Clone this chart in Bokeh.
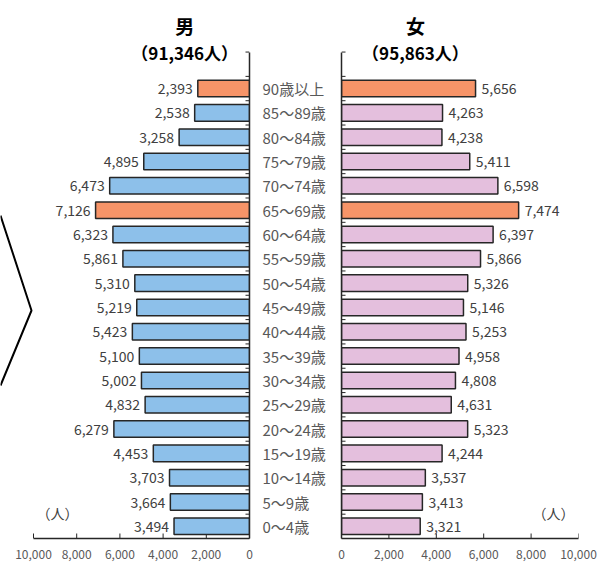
from bokeh.plotting import figure
from bokeh.models import Range1d, FixedTicker, NumeralTickFormatter, ColumnDataSource, Label
from bokeh.layouts import row
from bokeh.embed import file_html
from bokeh.resources import INLINE
from bokeh.core.properties import value

# ---------------- data ----------------
age_groups = ["90歳以上", "85～89歳", "80～84歳", "75～79歳", "70～74歳", "65～69歳",
              "60～64歳", "55～59歳", "50～54歳", "45～49歳", "40～44歳", "35～39歳",
              "30～34歳", "25～29歳", "20～24歳", "15～19歳", "10～14歳", "5～9歳", "0～4歳"]
male = [2393, 2538, 3258, 4895, 6473, 7126, 6323, 5861, 5310, 5219, 5423, 5100,
        5002, 4832, 6279, 4453, 3703, 3664, 3494]
female = [5656, 4263, 4238, 5411, 6598, 7474, 6397, 5866, 5326, 5146, 5253, 4958,
          4808, 4631, 5323, 4244, 3537, 3413, 3321]
highlight_groups = ["90歳以上", "65～69歳"]
male_title = "男"
female_title = "女"
male_total = "（91,346人）"
female_total = "（95,863人）"
unit_label = "（人）"
x_ticks = [0, 2000, 4000, 6000, 8000, 10000]

# ---------------- styles ----------------
FONT = "Noto Sans CJK JP"
BLUE = "#8DC0EA"
PINK = "#E4BFDD"
ORANGE = "#F79468"
OUTLINE = "#262626"
LABEL_COL = "#404040"
AXIS_LABEL_COL = "#595959"
AXIS_COL = "#262626"

n = len(age_groups)
ypos = [n - 1 - i for i in range(n)]
boundaries = [-0.5 + i for i in range(n + 2)]
male_colors = [ORANGE if g in highlight_groups else BLUE for g in age_groups]
female_colors = [ORANGE if g in highlight_groups else PINK for g in age_groups]
male_text = [f"{v:,}" for v in male]
female_text = [f"{v:,}" for v in female]

src_m = ColumnDataSource(dict(y=ypos, v=male, c=male_colors, t=male_text))
src_f = ColumnDataSource(dict(y=ypos, v=female, c=female_colors, t=female_text))

Y_RANGE = (-0.5, 21.62)
H = 565
FRAME_H = 538
PX_PER_ROW = FRAME_H / (Y_RANGE[1] - Y_RANGE[0])
LEFT_FRAME_W = 249          # frame of the male panel spans pixels 0..249
LEFT_SCALE_W = 216          # pixels per 10,000 on the male axis
RIGHT_FRAME_W = 237
X_TICK_LEN = 5              # px, inward
Y_TICK_LEN = 4              # px, inward


def style_common(p, scale_w):
    p.xgrid.visible = False
    p.ygrid.visible = False
    p.outline_line_color = None
    p.background_fill_color = "white"
    p.border_fill_color = "white"
    xa = p.xaxis[0]
    xa.ticker = FixedTicker(ticks=x_ticks, minor_ticks=[])
    xa.formatter = NumeralTickFormatter(format="0,0")
    xa.bounds = (0, 10000)
    xa.major_tick_in = 0
    xa.major_tick_out = 0
    xa.minor_tick_in = 0
    xa.minor_tick_out = 0
    xa.axis_line_color = AXIS_COL
    xa.axis_line_width = 1.3
    xa.major_label_text_font = FONT
    xa.major_label_text_font_size = "12px"
    xa.major_label_text_color = AXIS_LABEL_COL
    xa.major_label_standoff = 11
    ya = p.yaxis[0]
    ya.ticker = FixedTicker(ticks=ypos, minor_ticks=[])
    ya.bounds = (-0.5, n + 0.5)
    ya.major_tick_in = 0
    ya.major_tick_out = 0
    ya.minor_tick_in = 0
    ya.minor_tick_out = 0
    ya.axis_line_color = AXIS_COL
    ya.axis_line_width = 1.5
    # inward tick marks (drawn as segments so they are guaranteed visible)
    dx = Y_TICK_LEN * 10000 / scale_w
    p.segment(x0=[0] * len(boundaries), x1=[dx] * len(boundaries),
              y0=boundaries, y1=boundaries, line_color=AXIS_COL, line_width=1)
    dy = X_TICK_LEN / PX_PER_ROW
    p.segment(x0=x_ticks, x1=x_ticks, y0=[-0.5] * len(x_ticks),
              y1=[-0.5 + dy] * len(x_ticks), line_color=AXIS_COL, line_width=1)


# ---------------- male (left) ----------------
left_start = 10000 * LEFT_FRAME_W / LEFT_SCALE_W
pm = figure(width=LEFT_FRAME_W + 88, height=H, x_range=Range1d(left_start, 0),
            y_range=Range1d(*Y_RANGE), y_axis_location="right",
            toolbar_location=None, output_backend="svg",
            min_border_left=0, min_border_right=88, min_border_top=0, min_border_bottom=27)
style_common(pm, LEFT_SCALE_W)
pm.hbar(y="y", right="v", left=0, height=0.68, source=src_m, fill_color="c",
        line_color=OUTLINE, line_width=1.5)
pm.text(x="v", y="y", text="t", source=src_m, x_offset=-5, text_align="right",
        text_baseline="middle", text_font=value(FONT), text_font_size="14px",
        text_color=LABEL_COL)
ya = pm.yaxis[0]
ya.major_label_overrides = {y: g for y, g in zip(ypos, age_groups)}
ya.major_label_text_font = FONT
ya.major_label_text_font_size = "15px"
ya.major_label_text_color = AXIS_LABEL_COL
ya.major_label_standoff = 13
pm.add_layout(Label(x=3000, y=20.6, text=male_title, text_align="center", text_baseline="middle",
                    text_font=FONT, text_font_size="19px", text_font_style="bold", text_color="black"))
pm.add_layout(Label(x=3000, y=19.5, text=male_total, text_align="center", text_baseline="middle",
                    text_font=FONT, text_font_size="17px", text_font_style="bold", text_color="black"))
pm.add_layout(Label(x=8890, y=0.53, text=unit_label, text_align="center", text_baseline="middle",
                    text_font=FONT, text_font_size="14px", text_color=LABEL_COL))

# decorative chevron at the far left (pixel-like helper ranges)
pm.extra_x_ranges = {"px": Range1d(0, LEFT_FRAME_W)}
pm.extra_y_ranges = {"px": Range1d(FRAME_H, 0)}
pm.line(x=[0, 31, 0], y=[215, 310, 385], x_range_name="px", y_range_name="px",
        line_color="black", line_width=2)

# ---------------- female (right) ----------------
pf = figure(width=4 + RIGHT_FRAME_W + 27, height=H, x_range=Range1d(0, 10000),
            y_range=Range1d(*Y_RANGE), toolbar_location=None, output_backend="svg",
            min_border_left=4, min_border_right=27, min_border_top=0, min_border_bottom=27)
style_common(pf, RIGHT_FRAME_W)
pf.hbar(y="y", right="v", left=0, height=0.68, source=src_f, fill_color="c",
        line_color=OUTLINE, line_width=1.5)
pf.text(x="v", y="y", text="t", source=src_f, x_offset=6, text_align="left",
        text_baseline="middle", text_font=value(FONT), text_font_size="14px",
        text_color=LABEL_COL)
ya = pf.yaxis[0]
ya.major_label_overrides = {y: "" for y in ypos}
ya.major_label_text_font_size = "0px"
ya.major_label_standoff = 0
pf.add_layout(Label(x=3120, y=20.6, text=female_title, text_align="center", text_baseline="middle",
                    text_font=FONT, text_font_size="19px", text_font_style="bold", text_color="black"))
pf.add_layout(Label(x=3120, y=19.5, text=female_total, text_align="center", text_baseline="middle",
                    text_font=FONT, text_font_size="17px", text_font_style="bold", text_color="black"))
pf.add_layout(Label(x=8945, y=0.53, text=unit_label, text_align="center", text_baseline="middle",
                    text_font=FONT, text_font_size="14px", text_color=LABEL_COL))

layout = row(pm, pf)
open("out.html", "w").write(file_html(layout, INLINE))
